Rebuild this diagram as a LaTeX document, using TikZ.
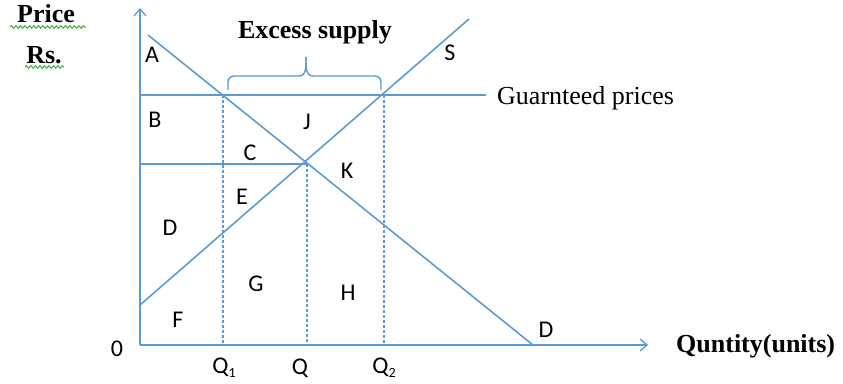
\documentclass[tikz,border=0pt]{standalone}
\usepackage{fontspec}
\setmainfont{Liberation Serif}
\newfontfamily\labfont{Carlito}
\usetikzlibrary{arrows.meta,decorations.pathmorphing}
\definecolor{lineblue}{RGB}{91,155,213}
\definecolor{squig}{RGB}{60,170,60}
\begin{document}
\begin{tikzpicture}[x=1pt,y=-1pt,
  axis/.style={lineblue,line width=1.6pt,-{Straight Barb[length=7pt,width=12pt,line width=1.3pt]}},
  curve/.style={lineblue,line width=1.6pt},
  guide/.style={lineblue,line width=1.5pt,dash pattern=on 3pt off 2pt},
  region/.style={font=\labfont\fontsize{24}{28}\selectfont,inner sep=0pt},
  title/.style={font=\fontsize{26}{30}\selectfont\bfseries,inner sep=0pt},
  plain/.style={font=\fontsize{26}{30}\selectfont,inner sep=0pt},
  wavy/.style={squig,line width=1pt,decorate,decoration={snake,amplitude=1.3pt,segment length=4.5pt}}]
\useasboundingbox (0,0) rectangle (843,383);
% axes
\coordinate (O) at (140,345);
\coordinate (ytop) at (140,8);
\coordinate (xend) at (648,345);
\draw[axis] (O) -- (ytop);
\draw[axis] (O) -- (xend);
% demand and supply
\coordinate (dtop) at (148,35);
\coordinate (dbot) at (533,345);
\coordinate (sbot) at (140,305);
\coordinate (stop) at (469,19);
\draw[curve] (dtop) -- (dbot);
\draw[curve] (sbot) -- (stop);
% guaranteed price and equilibrium price
\coordinate (gl) at (140,95);
\coordinate (gr) at (486,95);
\coordinate (el) at (140,164);
\coordinate (er) at (307,164);
\draw[curve] (gl) -- (gr);
\draw[curve] (el) -- (er);
% dashed guides
\coordinate (q1t) at (223,95);
\coordinate (q1b) at (223,345);
\coordinate (qt) at (307,164);
\coordinate (qb) at (307,345);
\coordinate (q2t) at (384,95);
\coordinate (q2b) at (384,345);
\draw[guide] (q1t) -- (q1b);
\draw[guide] (qt) -- (qb);
\draw[guide] (q2t) -- (q2b);
% brace
\coordinate (bl) at (228,90);
\coordinate (br) at (381,90);
\coordinate (btip) at (306,57);
\draw[lineblue,line width=1.4pt] (bl) -- (228,82) to[out=90,in=180] (234,76) -- (299,76) to[out=0,in=-90] (btip);
\draw[lineblue,line width=1.4pt] (br) -- (381,82) to[out=90,in=0] (375,76) -- (313,76) to[out=180,in=-90] (btip);
% texts
\node[title] (price) at (46,14) {Price};
\node[title] (rs) at (44,55) {Rs.};
\draw[wavy] (10,27) -- (86,27);
\draw[wavy] (25,67) -- (64,67);
\node[title] (excess) at (315,32) {Excess supply};
\node[plain,anchor=west] (guar) at (497,98) {Guarnteed prices};
\node[title,anchor=west] (qty) at (676,346) {Quntity(units)};
% region letters
\node[region] (A) at (152,55) {A};
\node[region] (B) at (155,120) {B};
\node[region] (C) at (250,153) {C};
\node[region] (Dr) at (170,228) {D};
\node[region] (E) at (242,197) {E};
\node[region] (F) at (178,320) {F};
\node[region] (G) at (256,284) {G};
\node[region] (H) at (348,293) {H};
\node[region] (J) at (307,122) {J};
\node[region] (K) at (347,171) {K};
\node[region] (S) at (450,53) {S};
\node[region] (Dd) at (546,330) {D};
\node[region] (zero) at (117,349) {0};
\node[region] (Q1) at (224,368) {Q\raisebox{-0.35ex}{\fontsize{14}{15}\selectfont 1}};
\node[region] (Q) at (300,368) {Q};
\node[region] (Q2) at (384,368) {Q\raisebox{-0.35ex}{\fontsize{14}{15}\selectfont 2}};
\end{tikzpicture}
\end{document}
